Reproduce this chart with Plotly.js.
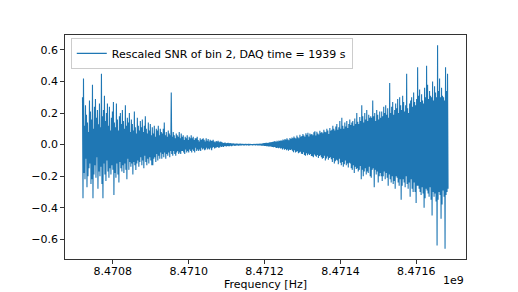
<!DOCTYPE html>
<html>
<head>
<meta charset="utf-8">
<script src="https://cdn.plot.ly/plotly-3.0.1.min.js"></script>
<style>html,body{margin:0;padding:0;background:#fff;}#chart{width:518px;height:292px;}</style>
</head>
<body>
<div id="chart"></div>
<script>
// Frequency grid (Hz): uniform bins
const freqStart = 8470720300;
const freqStep = 1314;

// Rescaled SNR values (left to right)
const snr = [
 0.30,-0.34,0.42,-0.18,0.12,-0.22,0.25,-0.09,0.19,-0.27,0.14,-0.20,0.08,-0.15,0.28,-0.12,0.21,-0.25,0.16,-0.22,
 0.38,-0.34,0.10,-0.19,0.24,-0.13,0.29,-0.21,0.17,-0.08,0.22,-0.28,0.13,-0.17,0.26,-0.20,0.11,-0.14,0.45,-0.25,
 0.18,-0.34,0.22,-0.12,0.31,-0.19,0.15,-0.23,0.20,-0.10,0.26,-0.17,0.12,-0.21,0.24,-0.15,0.09,-0.19,0.17,-0.13,
 0.21,-0.16,0.27,-0.32,0.14,-0.18,0.11,-0.21,0.26,-0.12,0.16,-0.19,0.09,-0.24,0.18,-0.11,0.20,-0.15,0.13,-0.17,
 0.22,-0.13,0.15,-0.18,0.10,-0.12,0.25,-0.16,0.12,-0.22,0.17,-0.09,0.14,-0.16,0.20,-0.11,0.08,-0.14,0.16,-0.12,
 0.13,-0.19,0.09,-0.11,0.21,-0.13,0.11,-0.16,0.07,-0.12,0.17,-0.10,0.12,-0.14,0.09,-0.11,0.15,-0.08,0.11,-0.13,
 0.16,-0.10,0.08,-0.15,0.12,-0.07,0.18,-0.11,0.10,-0.13,0.07,-0.09,0.14,-0.12,0.09,-0.08,0.13,-0.10,0.06,-0.13,
 0.11,-0.13,0.07,-0.09,0.12,-0.08,0.05,-0.11,0.10,-0.06,0.09,-0.10,0.12,-0.07,0.06,-0.09,0.10,-0.05,0.08,-0.09,
 0.07,-0.06,0.10,-0.08,0.14,-0.05,0.06,-0.09,0.08,-0.06,0.05,-0.07,0.09,-0.05,0.07,-0.08,0.06,-0.04,0.33,-0.06,
 0.05,-0.07,0.08,-0.04,0.06,-0.06,0.04,-0.07,0.07,-0.05,0.06,-0.04,0.05,-0.06,0.08,-0.05,0.04,-0.06,0.07,-0.04,
 0.05,-0.04,0.06,-0.05,0.03,-0.06,0.05,-0.03,0.04,-0.05,0.06,-0.04,0.03,-0.05,0.05,-0.03,0.04,-0.04,0.06,-0.05,
 0.04,-0.03,0.05,-0.04,0.03,-0.05,0.04,-0.02,0.04,-0.04,0.05,-0.03,0.03,-0.04,0.02,-0.03,0.04,-0.04,0.03,-0.02,
 0.035,-0.03,0.04,-0.025,0.03,-0.035,0.02,-0.03,0.04,-0.02,0.025,-0.03,0.035,-0.025,0.02,-0.03,0.03,-0.02,0.025,-0.035,
 0.025,-0.02,0.03,-0.015,0.02,-0.025,0.015,-0.02,0.022,-0.018,0.02,-0.015,0.025,-0.02,0.015,-0.018,0.02,-0.012,0.018,-0.015,
 0.015,-0.012,0.01,-0.015,0.012,-0.008,0.013,-0.01,0.009,-0.012,0.01,-0.008,0.011,-0.009,0.008,-0.01,0.009,-0.007,0.008,-0.009,
 0.007,-0.006,0.008,-0.005,0.006,-0.007,0.005,-0.006,0.006,-0.005,0.007,-0.004,0.005,-0.006,0.004,-0.005,0.006,-0.004,0.005,-0.004,
 0.004,-0.003,0.005,-0.004,0.003,-0.004,0.004,-0.003,0.004,-0.004,0.003,-0.003,0.004,-0.002,0.003,-0.004,0.004,-0.003,0.003,-0.003,
 0.003,-0.004,0.003,-0.003,0.004,-0.003,0.003,-0.004,0.004,-0.003,0.005,-0.004,0.004,-0.005,0.005,-0.004,0.006,-0.005,0.005,-0.006,
 0.007,-0.006,0.008,-0.007,0.009,-0.008,0.010,-0.008,0.011,-0.009,0.012,-0.010,0.010,-0.012,0.013,-0.011,0.014,-0.012,0.015,-0.013,
 0.016,-0.014,0.018,-0.016,0.020,-0.015,0.022,-0.018,0.017,-0.021,0.024,-0.019,0.020,-0.023,0.026,-0.020,0.022,-0.025,0.028,-0.022,
 0.025,-0.030,0.032,-0.024,0.028,-0.033,0.036,-0.027,0.030,-0.035,0.040,-0.030,0.033,-0.038,0.028,-0.032,0.042,-0.034,0.036,-0.030,
 0.045,-0.038,0.040,-0.048,0.052,-0.036,0.044,-0.050,0.038,-0.045,0.058,-0.042,0.047,-0.055,0.040,-0.050,0.062,-0.045,0.050,-0.058,
 0.055,-0.060,0.068,-0.048,0.058,-0.065,0.050,-0.070,0.072,-0.055,0.062,-0.068,0.075,-0.058,0.052,-0.066,0.070,-0.060,0.064,-0.072,
 0.068,-0.074,0.060,-0.080,0.078,-0.062,0.085,-0.070,0.058,-0.076,0.082,-0.065,0.070,-0.084,0.064,-0.072,0.088,-0.068,0.075,-0.080,
 0.080,-0.090,0.072,-0.085,0.095,-0.070,0.082,-0.100,0.078,-0.088,0.100,-0.075,0.090,-0.095,0.068,-0.085,0.105,-0.080,0.088,-0.092,
 0.095,-0.110,0.120,-0.085,0.100,-0.120,0.090,-0.105,0.115,-0.095,0.130,-0.100,0.095,-0.125,0.110,-0.090,0.150,-0.115,0.100,-0.130,
 0.170,-0.110,0.120,-0.140,0.100,-0.125,0.140,-0.100,0.115,-0.130,0.150,-0.120,0.105,-0.145,0.130,-0.115,0.160,-0.120,0.125,-0.150,
 0.140,-0.160,0.150,-0.130,0.120,-0.180,0.165,-0.140,0.130,-0.155,0.200,-0.150,0.145,-0.170,0.130,-0.160,0.175,-0.135,0.150,-0.220,
 0.25,-0.16,0.18,-0.20,0.14,-0.17,0.20,-0.15,0.16,-0.19,0.22,-0.17,0.15,-0.18,0.19,-0.14,0.17,-0.20,0.18,-0.21,
 0.17,-0.16,0.28,-0.15,0.18,-0.27,0.20,-0.16,0.15,-0.19,0.22,-0.17,0.19,-0.24,0.16,-0.20,0.21,-0.18,0.17,-0.20,
 0.21,-0.23,0.18,-0.20,0.24,-0.17,0.20,-0.22,0.25,-0.18,0.19,-0.21,0.23,-0.26,0.17,-0.19,0.39,-0.22,0.20,-0.24,
 0.24,-0.20,0.27,-0.25,0.19,-0.23,0.22,-0.28,0.26,-0.20,0.23,-0.21,0.29,-0.24,0.20,-0.26,0.30,-0.22,0.25,-0.35,
 0.22,-0.26,0.31,-0.22,0.27,-0.24,0.21,-0.27,0.25,-0.20,0.45,-0.25,0.23,-0.28,0.20,-0.24,0.26,-0.33,0.28,-0.22,
 0.30,-0.28,0.24,-0.30,0.33,-0.24,0.27,-0.30,0.25,-0.37,0.29,-0.26,0.49,-0.26,0.31,-0.28,0.35,-0.30,0.27,-0.32,
 0.32,-0.27,0.28,-0.31,0.26,-0.40,0.36,-0.34,0.30,-0.28,0.50,-0.29,0.38,-0.31,0.29,-0.33,0.34,-0.27,0.31,-0.35,
 0.30,-0.45,0.40,-0.30,0.28,-0.33,0.37,-0.31,0.33,-0.36,0.30,-0.64,0.63,-0.35,0.34,-0.30,0.42,-0.32,0.30,-0.47,
 0.36,-0.38,0.31,-0.29,0.30,-0.33,0.28,-0.66,0.49,-0.32,0.34,-0.30,0.45,-0.28
];
const freq = snr.map((_, i) => freqStart + i * freqStep);

const xTickVals = [8.4708e9, 8.4710e9, 8.4712e9, 8.4714e9, 8.4716e9];
const xTickText = ['8.4708', '8.4710', '8.4712', '8.4714', '8.4716'];
const yTickVals = [-0.6, -0.4, -0.2, 0.0, 0.2, 0.4, 0.6];
const yTickText = ['\u22120.6', '\u22120.4', '\u22120.2', '0.0', '0.2', '0.4', '0.6'];
const seriesName = 'Rescaled SNR of bin 2, DAQ time = 1939 s';

const font = {family: 'DejaVu Sans, sans-serif', size: 11, color: '#000'};

const data = [{
  x: freq, y: snr, type: 'scatter', mode: 'lines', name: seriesName,
  line: {color: '#1f77b4', width: 1.1}, showlegend: true
}];

const layout = {
  width: 518, height: 292,
  margin: {l: 64.5, r: 52, t: 35, b: 33, pad: 0},
  paper_bgcolor: '#fff', plot_bgcolor: '#fff',
  font: font,
  showlegend: true,
  legend: {
    x: 0.0144, y: 0.987, xanchor: 'left', yanchor: 'top',
    bgcolor: 'rgba(255,255,255,0.8)', bordercolor: '#cccccc', borderwidth: 1,
    font: font, itemwidth: 30
  },
  xaxis: {
    range: [8470674210, 8471730790],
    tickvals: xTickVals, ticktext: xTickText,
    showgrid: false, zeroline: false,
    showline: true, linecolor: '#000', linewidth: 0.8, mirror: true,
    ticks: 'outside', ticklen: 4, tickwidth: 0.8, tickcolor: '#000',
    ticklabelstandoff: -2,
    tickfont: font,
    title: {text: 'Frequency [Hz]', font: font, standoff: 0}
  },
  yaxis: {
    range: [-0.725, 0.695],
    tickvals: yTickVals, ticktext: yTickText,
    showgrid: false, zeroline: false,
    showline: true, linecolor: '#000', linewidth: 0.8, mirror: true,
    ticks: 'outside', ticklen: 4, tickwidth: 0.8, tickcolor: '#000',
    tickfont: font
  },
  annotations: [{
    text: '1e9', xref: 'paper', yref: 'paper', x: 1, y: -0.094,
    xanchor: 'right', yanchor: 'middle', showarrow: false, font: font
  }]
};

Plotly.newPlot('chart', data, layout, {displayModeBar: false, staticPlot: true});
</script>
</body>
</html>
